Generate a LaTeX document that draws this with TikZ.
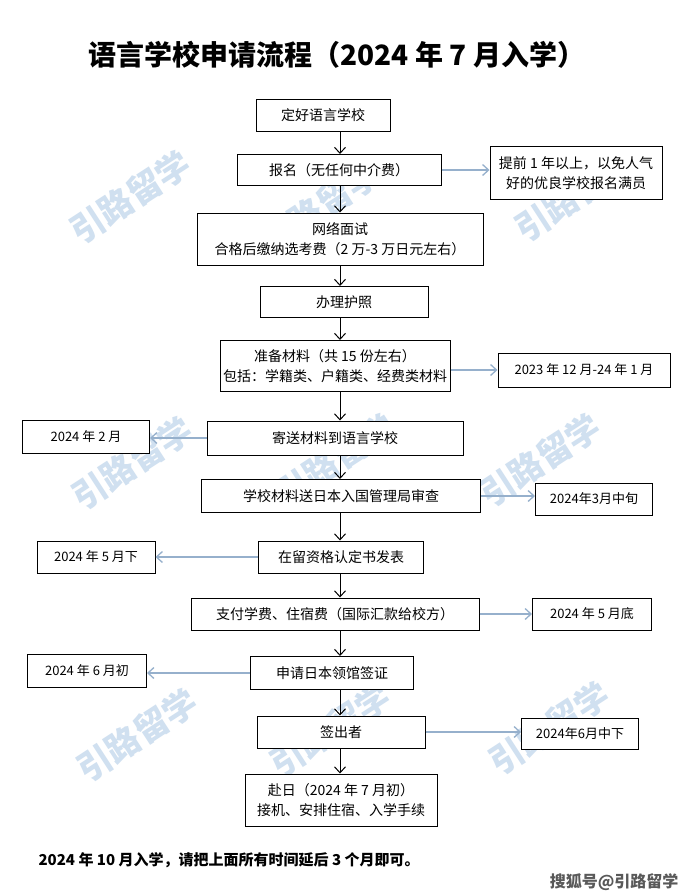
\documentclass[tikz,border=0pt]{standalone}
\usepackage{fontspec}
\setmainfont{Noto Sans CJK SC}
\usetikzlibrary{arrows.meta}
\definecolor{sideblue}{RGB}{150,176,204}
\definecolor{wmblue}{RGB}{208,224,240}
\begin{document}
\begin{tikzpicture}[x=1pt,y=-1pt,
    box/.style={draw=black, line width=1pt, fill=white, align=center, inner sep=0pt, font=\fontsize{14}{20}\selectfont},
    datebox/.style={box, font=\fontsize{13}{19}\selectfont},
    flow/.style={-{Straight Barb[length=6pt,width=11pt]}, line width=1pt},
    aside/.style={flow, draw=sideblue, line width=1.3pt},
    wmtext/.style={text=wmblue, rotate=33, font=\fontsize{34}{34}\selectfont\bfseries}]
    \useasboundingbox[fill=white] (0,0) rectangle (689,895);

    \node[wmtext] (wm1) at (130,197) {引路留学};
    \node[wmtext] (wm2) at (320,207) {引路留学};
    \node[wmtext] (wm3) at (575,195) {引路留学};
    \node[wmtext] (wm4) at (132,463) {引路留学};
    \node[wmtext] (wm5) at (335,460) {引路留学};
    \node[wmtext] (wm6) at (540,460) {引路留学};
    \node[wmtext] (wm7) at (137,735) {引路留学};
    \node[wmtext] (wm8) at (330,730) {引路留学};
    \node[wmtext] (wm9) at (549,728) {引路留学};

    \node[anchor=west, font=\fontsize{28}{32}\selectfont\bfseries] (title) at (85,55) {语言学校申请流程（2024 年 7 月入学）};

    \coordinate (spine) at (340,0);

    \node[box, minimum width=134pt, minimum height=32pt] (b1) at (323,115) {定好语言学校};
    \node[box, minimum width=204pt, minimum height=31pt] (b2) at (339,170) {报名（无任何中介费）};
    \node[box, minimum width=286pt, minimum height=52pt] (b3) at (340,239) {网络面试\\合格后缴纳选考费（2 万-3 万日元左右）};
    \node[box, minimum width=168pt, minimum height=31pt] (b4) at (344,302) {办理护照};
    \node[box, minimum width=230pt, minimum height=51pt] (b5) at (335,366) {准备材料（共 15 份左右）\\包括：学籍类、户籍类、经费类材料};
    \node[box, minimum width=256pt, minimum height=34pt] (b6) at (335,438) {寄送材料到语言学校};
    \node[box, minimum width=279pt, minimum height=33pt] (b7) at (341,496) {学校材料送日本入国管理局审查};
    \node[box, minimum width=165pt, minimum height=32pt] (b8) at (341,557) {在留资格认定书发表};
    \node[box, minimum width=288pt, minimum height=32pt] (b9) at (335,614) {支付学费、住宿费（国际汇款给校方）};
    \node[box, minimum width=163pt, minimum height=33pt] (b10) at (332,673) {申请日本领馆签证};
    \node[box, minimum width=168pt, minimum height=32pt] (b11) at (341,732) {签出者};
    \node[box, minimum width=192pt, minimum height=52pt] (b12) at (341,800) {赴日（2024 年 7 月初）\\接机、安排住宿、入学手续};

    \node[box, minimum width=172pt, minimum height=53pt] (s2) at (576,173) {提前 1 年以上，以免人气\\好的优良学校报名满员};
    \node[datebox, minimum width=172pt, minimum height=34pt] (s5) at (584,370) {2023 年 12 月-24 年 1 月};
    \node[datebox, minimum width=127pt, minimum height=33pt] (s6) at (86,437) {2024 年 2 月};
    \node[datebox, minimum width=117pt, minimum height=32pt] (s7) at (594,499) {2024年3月中旬};
    \node[datebox, minimum width=118pt, minimum height=32pt] (s8) at (96,557) {2024 年 5 月下};
    \node[datebox, minimum width=119pt, minimum height=32pt] (s9) at (592,614) {2024 年 5 月底};
    \node[datebox, minimum width=119pt, minimum height=33pt] (s10) at (87,671) {2024 年 6 月初};
    \node[datebox, minimum width=117pt, minimum height=31pt] (s11) at (580,734) {2024年6月中下};

    \draw[flow] (b1.south -| spine) -- (b2.north -| spine);
    \draw[flow] (b2.south -| spine) -- (b3.north -| spine);
    \draw[flow] (b3.south -| spine) -- (b4.north -| spine);
    \draw[flow] (b4.south -| spine) -- (b5.north -| spine);
    \draw[flow] (b5.south -| spine) -- (b6.north -| spine);
    \draw[flow] (b6.south -| spine) -- (b7.north -| spine);
    \draw[flow] (b7.south -| spine) -- (b8.north -| spine);
    \draw[flow] (b8.south -| spine) -- (b9.north -| spine);
    \draw[flow] (b9.south -| spine) -- (b10.north -| spine);
    \draw[flow] (b10.south -| spine) -- (b11.north -| spine);
    \draw[flow] (b11.south -| spine) -- (b12.north -| spine);

    \draw[aside] (b2.east) -- (b2.east -| s2.west);
    \draw[aside] (b5.east |- s5.west) -- (s5.west);
    \draw[aside] (b6.west) -- (b6.west -| s6.east);
    \draw[aside] (b7.east) -- (b7.east -| s7.west);
    \draw[aside] (b8.west) -- (b8.west -| s8.east);
    \draw[aside] (b9.east) -- (b9.east -| s9.west);
    \draw[aside] (b10.west) -- (b10.west -| s10.east);
    \draw[aside] (b11.east) -- (b11.east -| s11.west);

    \node[anchor=west, font=\fontsize{15}{18}\selectfont\bfseries] (note) at (35,860) {2024 年 10 月入学，请把上面所有时间延后 3 个月即可。};
    \node[anchor=east, text=black!65, font=\fontsize{16}{18}\selectfont\bfseries] (src) at (682,882) {搜狐号@引路留学};
\end{tikzpicture}
\end{document}
